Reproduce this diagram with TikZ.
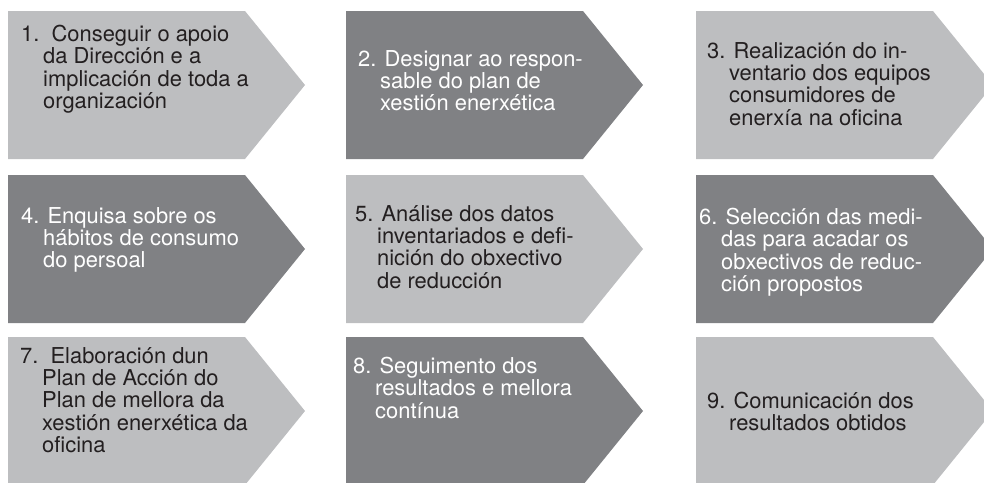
\documentclass[tikz,border=0pt]{standalone}
\usepackage{fontspec}
\setmainfont{TeX Gyre Heros}
\usepackage{xcolor}
\usepackage{tikz}
\definecolor{grisclaro}{RGB}{189,190,192}
\definecolor{grisescuro}{RGB}{128,129,132}
\definecolor{tinta}{RGB}{35,31,32}
\newcommand{\sg}{\hspace*{22pt}}

\begin{document}
\begin{tikzpicture}[x=1pt,y=-1pt,
  claro/.style={fill=grisclaro},
  escuro/.style={fill=grisescuro},
  texto/.style={anchor=north west,inner sep=0pt,align=left,font=\fontsize{21.9pt}{22.4pt}\selectfont},
  txclaro/.style={texto,text=tinta},
  txescuro/.style={texto,text=white}]
\useasboundingbox (0,0) rectangle (984,482);
\clip (0,0) rectangle (984,482);

\foreach \x/\y/\c in {8/11/claro,346/11/escuro,696/11/claro,
                      8/175/escuro,346/175/claro,696/175/escuro,
                      8/337/claro,346/337/escuro,696/337/claro}
  \fill[\c] (\x,\y) -- ++(237,0) -- ++(60,74) -- ++(-60,74) -- ++(-237,0) -- cycle;

\node[txclaro] (paso1) at (21,25) {1.\ \ Conseguir o apoio\\\sg da Dirección e a\\\sg implicación de toda a\\\sg organización};
\node[txescuro] (paso2) at (358,50) {2. Designar ao respon-\\\sg sable do plan de\\\sg xestión enerxética};
\node[txclaro] (paso3) at (707,42) {3. Realización do in-\\\sg ventario dos equipos\\\sg consumidores de\\\sg enerxía na oficina};

\node[txescuro] (paso4) at (21,207) {4. Enquisa sobre os\\\sg hábitos de consumo\\\sg do persoal};
\node[txclaro] (paso5) at (355,205) {5. Análise dos datos\\\sg inventariados e defi-\\\sg nición do obxectivo\\\sg de reducción};
\node[txescuro] (paso6) at (699,208) {6. Selección das medi-\\\sg das para acadar os\\\sg obxectivos de reduc-\\\sg ción propostos};

\node[txclaro] (paso7) at (20,347) {7.\ \ Elaboración dun\\\sg Plan de Acción do\\\sg Plan de mellora da\\\sg xestión enerxética da\\\sg oficina};
\node[txescuro] (paso8) at (353,357) {8. Seguimento dos\\\sg resultados e mellora\\\sg contínua};
\node[txclaro] (paso9) at (707,392) {9. Comunicación dos\\\sg resultados obtidos};
\end{tikzpicture}
\end{document}
